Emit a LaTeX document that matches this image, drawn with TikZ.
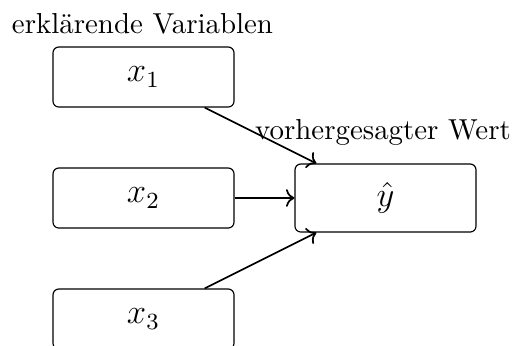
\documentclass[tikz,border=0pt]{standalone}
\usetikzlibrary{arrows.meta}
\begin{document}
\begin{tikzpicture}[x=0.3462pt,y=-0.3462pt,
  box/.style={draw,rounded corners=2pt,minimum width=181*0.3462pt,minimum height=60*0.3462pt,inner sep=0pt,font=\large},
  conn/.style={->,semithick}]
\useasboundingbox (0,0) rectangle (515,345);
\node[box] (x1) at (143.5,77) {$x_1$};
\node[box] (x2) at (143.5,198) {$x_2$};
\node[box] (x3) at (143.5,319) {$x_3$};
\node[box,minimum height=68*0.3462pt] (y) at (385.5,198) {$\hat{y}$};
\node[anchor=base,inner sep=0pt] (lx) at (142.5,33) {erklärende Variablen};
\node[anchor=base,inner sep=0pt] (ly) at (383,139) {vorhergesagter Wert};
\draw[conn] (x1) -- (y);
\draw[conn] (x2) -- (y);
\draw[conn] (x3) -- (y);
\end{tikzpicture}
\end{document}
